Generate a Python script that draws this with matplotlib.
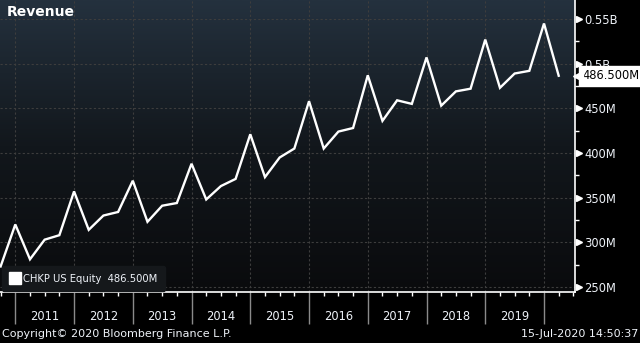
import matplotlib
matplotlib.use("Agg")
import matplotlib.pyplot as plt
import matplotlib.transforms as mtransforms
from matplotlib.colors import LinearSegmentedColormap
from matplotlib.lines import Line2D
from matplotlib.ticker import FixedLocator, FuncFormatter
import numpy as np

# quarterly revenue, millions USD
quarters = ["2010Q3", "2010Q4",
            "2011Q1", "2011Q2", "2011Q3", "2011Q4",
            "2012Q1", "2012Q2", "2012Q3", "2012Q4",
            "2013Q1", "2013Q2", "2013Q3", "2013Q4",
            "2014Q1", "2014Q2", "2014Q3", "2014Q4",
            "2015Q1", "2015Q2", "2015Q3", "2015Q4",
            "2016Q1", "2016Q2", "2016Q3", "2016Q4",
            "2017Q1", "2017Q2", "2017Q3", "2017Q4",
            "2018Q1", "2018Q2", "2018Q3", "2018Q4",
            "2019Q1", "2019Q2", "2019Q3", "2019Q4",
            "2020Q1"]
revenue = [273, 320,
           281, 303, 308, 357,
           314, 330, 334, 369,
           323, 341, 344, 388,
           348, 363, 371, 421,
           373, 395, 405, 458,
           405, 424, 428, 487,
           436, 459, 455, 507,
           453, 469, 472, 527,
           473, 489, 492, 545,
           486.5]
years = list(range(2011, 2020))
ytick_vals = [250, 300, 350, 400, 450, 500, 550]
last_label = "486.500M"
ticker = "CHKP US Equity"

# quarter-end as fractional year
x = np.array([int(q[:4]) + int(q[-1]) / 4.0 for q in quarters])

fig = plt.figure(figsize=(6.4, 3.43), dpi=100)
fig.patch.set_facecolor("black")
ax = fig.add_axes([0, 51 / 343, 574.5 / 640, 292 / 343])

# gradient background
cmap = LinearSegmentedColormap.from_list("bg", ["#0a0b0d", "#12171c", "#24313e"])
grad = np.linspace(0, 1, 256).reshape(-1, 1)
ax.imshow(grad, extent=[0, 1, 0, 1], transform=ax.transAxes, aspect="auto",
          cmap=cmap, origin="lower", zorder=0)

ax.plot(x, revenue, color="white", lw=1.7, zorder=3, solid_joinstyle="miter")

ax.set_xlim(2010.7395, 2020.519)
ax.set_ylim(244.4, 571.3)

# grid
for yv in ytick_vals:
    ax.axhline(yv, color="#3d3d3d", lw=0.8, ls=(0, (2, 2)), zorder=1)
for yr in years + [2020]:
    ax.axvline(yr, color="#3d3d3d", lw=0.8, ls=(0, (2, 2)), zorder=1)

for s in ["left", "top"]:
    ax.spines[s].set_visible(False)
ax.spines["right"].set_color("white")
ax.spines["bottom"].set_color("white")
ax.spines["right"].set_linewidth(1.2)
ax.spines["bottom"].set_linewidth(1.2)

# y axis on the right
ax.yaxis.tick_right()
ax.yaxis.set_major_locator(FixedLocator(ytick_vals))
ax.yaxis.set_minor_locator(FixedLocator([v + 25 for v in ytick_vals]))
ax.yaxis.set_major_formatter(FuncFormatter(
    lambda v, p: ("%gB" % (v / 1000.0)) if v >= 500 else "%dM" % v))
ax.tick_params(axis="y", which="major", length=0, pad=7, labelsize=8.3,
               labelcolor="#eef2f8")
ax.tick_params(axis="y", which="minor", length=3, width=1, color="white",
               direction="out")
trans_y = mtransforms.blended_transform_factory(ax.transAxes, ax.transData)
ax.plot([1.007] * len(ytick_vals), ytick_vals, ls="", marker=">", ms=4.5,
        color="white", transform=trans_y, clip_on=False, zorder=4)

# x axis: quarter minor ticks, long grey year ticks
qs = np.arange(2010.75, 2020.51, 0.25)
ax.xaxis.set_minor_locator(FixedLocator(qs))
ax.xaxis.set_major_locator(FixedLocator(years + [2020]))
ax.xaxis.set_major_formatter(FuncFormatter(lambda v, p: ""))
ax.tick_params(axis="x", which="minor", length=3, width=1, color="white",
               direction="out")
ax.tick_params(axis="x", which="major", length=23, width=1, color="#8a8a8a",
               direction="out")
trans_x = mtransforms.blended_transform_factory(ax.transData, ax.transAxes)
for yr in years:
    ax.text(yr + 0.5, -0.085, str(yr), transform=trans_x, ha="center",
            va="center", color="#eef2f8", fontsize=8.3)

# last value tag
ax.text(1.014, revenue[-1], last_label, transform=trans_y, ha="left",
        va="center", fontsize=8.3, color="black", zorder=6, clip_on=False,
        bbox=dict(boxstyle="square,pad=0.3", fc="white", ec="white"))
ax.plot([1.006], [revenue[-1]], ls="", marker="<", ms=7, color="white",
        transform=trans_y, clip_on=False, zorder=6)

# legend
h = Line2D([], [], ls="", marker="s", ms=8, color="white")
leg = ax.legend([h], [ticker + "  " + last_label], loc="lower left",
                bbox_to_anchor=(0.002, 0.0), fontsize=7.2, frameon=True,
                fancybox=True, framealpha=1, handletextpad=0.35,
                borderpad=0.75, handlelength=1.0, borderaxespad=0.1)
leg.get_frame().set_facecolor("#15181b")
leg.get_frame().set_edgecolor("#15181b")
for t in leg.get_texts():
    t.set_color("#eef2f8")

ax.text(0.011, 0.96, "Revenue", transform=ax.transAxes, ha="left", va="center",
        color="white", fontsize=10, fontweight="bold")

fig.text(0.003, 1 - 334 / 343, "Copyright\u00a9 2020 Bloomberg Finance L.P.",
         ha="left", va="center", color="#eef2f8", fontsize=8)
fig.text(0.997, 1 - 334 / 343, "15-Jul-2020 14:50:37", ha="right",
         va="center", color="#eef2f8", fontsize=8)

fig.savefig("out.png", dpi=100, facecolor="black")
